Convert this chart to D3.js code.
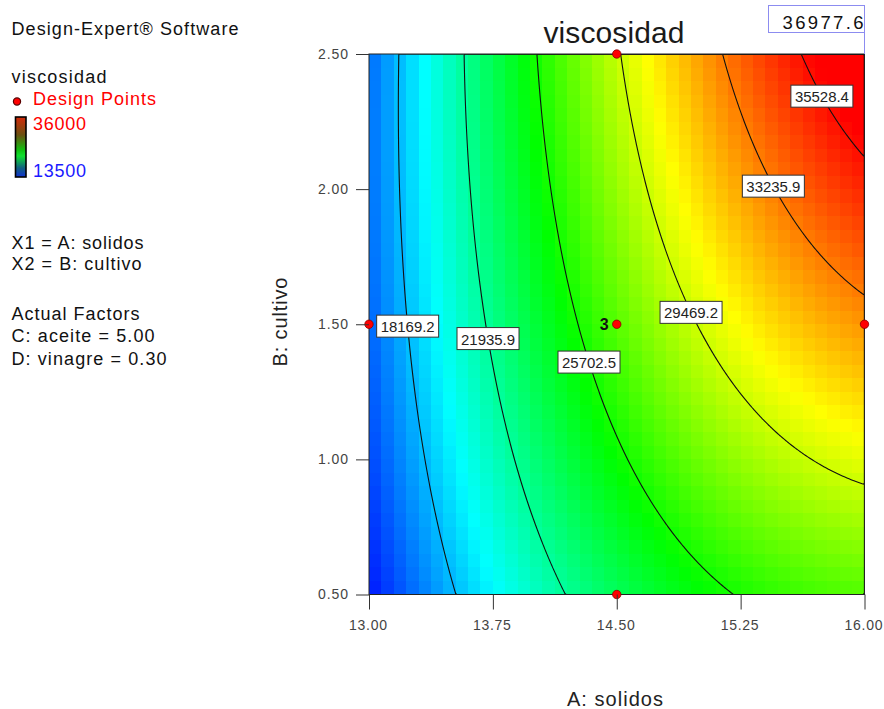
<!DOCTYPE html>
<html>
<head>
<meta charset="utf-8">
<script src="https://cdn.jsdelivr.net/npm/d3@7"></script>
<style>
    body { margin: 0; background: #fff; }
    text { font-family: "Liberation Sans", Arial, sans-serif; }
</style>
</head>
<body>
<div id="chart"></div>
<script>
(function () {
    // factor ranges (actual units)
    var solidosRange = [13.00, 16.00];
    var cultivoRange = [0.50, 2.50];

    // quadratic model in coded units, terms: Intercept, A, B, AB, A^2, B^2
    var modelTerms = ["Intercept", "A", "B", "AB", "A^2", "B^2"];
    var modelCoefs = [27064, 8292, 2981, 2039, -2650, -738];

    var contourLevels = [18169.2, 21935.9, 25702.5, 29469.2, 33235.9, 35528.4];
    var contourLabelCultivo = [1.493, 1.447, 1.360, 1.544, 2.011, 2.344];

    // response value where each colour of the ramp is reached (blue, cyan, green, yellow, red)
    var colorStops = [14000, 19700, 25300, 30500, 35800];
    var colorRamp = ["#0000ff", "#00ffff", "#00ff00", "#ffff00", "#ff0000"];

    var designSolidos = [14.50, 13.00, 14.50, 16.00, 14.50];
    var designCultivo = [2.50, 1.50, 1.50, 1.50, 0.50];
    var designReps = [1, 1, 3, 1, 1];

    var xTickValues = [13.00, 13.75, 14.50, 15.25, 16.00];
    var yTickValues = [0.50, 1.00, 1.50, 2.00, 2.50];

    var legendRange = [13500, 36000];
    var flagValue = 36977.6;
    var factorLines = ["X1 = A: solidos", "X2 = B: cultivo"];
    var actualLines = ["Actual Factors", "C: aceite = 5.00", "D: vinagre = 0.30"];

    var width = 884, height = 709;
    var nCells = 40, nFine = 240;

    function model(A, B) {
        var a = (A - d3.mean(solidosRange)) / ((solidosRange[1] - solidosRange[0]) / 2);
        var b = (B - d3.mean(cultivoRange)) / ((cultivoRange[1] - cultivoRange[0]) / 2);
        var c = modelCoefs;
        return c[0] + c[1] * a + c[2] * b + c[3] * a * b + c[4] * a * a + c[5] * b * b;
    }

    var svg = d3.select("#chart")
        .append("svg")
        .attr("width", width)
        .attr("height", height)
        .attr("xmlns", "http://www.w3.org/2000/svg");

    svg.append("rect").attr("width", width).attr("height", height).attr("fill", "#fff");

    var x = d3.scaleLinear().domain(solidosRange).range([369, 864.5]);
    var y = d3.scaleLinear().domain(cultivoRange).range([594.5, 54]);

    var color = d3.scaleLinear()
        .domain(colorStops)
        .range(colorRamp)
        .clamp(true);

    // fine grid for the contour lines (row 0 = top)
    var dAf = (solidosRange[1] - solidosRange[0]) / nFine;
    var dBf = (cultivoRange[1] - cultivoRange[0]) / nFine;
    var fine = new Array(nFine * nFine);
    for (var j = 0; j < nFine; j++) {
        for (var i = 0; i < nFine; i++) {
            fine[i + j * nFine] = model(solidosRange[0] + (i + 0.5) * dAf, cultivoRange[1] - (j + 0.5) * dBf);
        }
    }

    var defs = svg.append("defs");
    defs.append("clipPath").attr("id", "plotclip")
        .append("rect")
        .attr("x", x.range()[0]).attr("y", y.range()[1])
        .attr("width", x.range()[1] - x.range()[0])
        .attr("height", y.range()[0] - y.range()[1]);

    // coloured cells
    var cells = [];
    var dA = (solidosRange[1] - solidosRange[0]) / nCells;
    var dB = (cultivoRange[1] - cultivoRange[0]) / nCells;
    for (var ci = 0; ci < nCells; ci++) {
        for (var cj = 0; cj < nCells; cj++) {
            var a0 = solidosRange[0] + ci * dA, b0 = cultivoRange[0] + cj * dB;
            cells.push({a0: a0, a1: a0 + dA, b0: b0, b1: b0 + dB,
                v: model(a0 + dA / 2, b0 + dB / 2)});
        }
    }

    var plot = svg.append("g").attr("clip-path", "url(#plotclip)");

    plot.selectAll("rect.cell")
        .data(cells)
        .enter().append("rect")
        .attr("class", "cell")
        .attr("x", function (d) { return x(d.a0); })
        .attr("y", function (d) { return y(d.b1); })
        .attr("width", function (d) { return x(d.a1) - x(d.a0); })
        .attr("height", function (d) { return y(d.b0) - y(d.b1); })
        .attr("fill", function (d) { return color(d.v); })
        .attr("shape-rendering", "crispEdges");

    // contour lines
    var contours = d3.contours().size([nFine, nFine]).thresholds(contourLevels)(fine);
    var proj = d3.geoTransform({
        point: function (px, py) {
            this.stream.point(x(solidosRange[0] + px * dAf), y(cultivoRange[1] - py * dBf));
        }
    });
    var path = d3.geoPath(proj);

    plot.selectAll("path.contour")
        .data(contours)
        .enter().append("path")
        .attr("class", "contour")
        .attr("d", path)
        .attr("fill", "none")
        .attr("stroke", "#111")
        .attr("stroke-width", 1.1);

    // plot frame
    svg.append("rect")
        .attr("x", x.range()[0]).attr("y", y.range()[1])
        .attr("width", x.range()[1] - x.range()[0])
        .attr("height", y.range()[0] - y.range()[1])
        .attr("fill", "none")
        .attr("stroke", "#222")
        .attr("stroke-width", 1);

    // contour labels: find A on the line at the chosen B
    function solveA(level, B) {
        var lo = solidosRange[0], hi = solidosRange[1];
        for (var k = 0; k < 50; k++) {
            var mid = (lo + hi) / 2;
            if (model(mid, B) < level) lo = mid; else hi = mid;
        }
        return (lo + hi) / 2;
    }

    var labels = svg.selectAll("g.clabel")
        .data(contourLevels)
        .enter().append("g")
        .attr("class", "clabel")
        .attr("transform", function (d, i) {
            var B = contourLabelCultivo[i];
            return "translate(" + x(solveA(d, B)) + "," + y(B) + ")";
        });
    labels.append("rect")
        .attr("x", -31).attr("y", -11)
        .attr("width", 62).attr("height", 22)
        .attr("fill", "#fff")
        .attr("stroke", "#333")
        .attr("stroke-width", 1);
    labels.append("text")
        .attr("text-anchor", "middle")
        .attr("y", 6)
        .attr("font-size", 15.5)
        .attr("textLength", 54)
        .attr("lengthAdjust", "spacingAndGlyphs")
        .attr("fill", "#222")
        .text(function (d) { return d3.format(".1f")(d); });

    // design points
    var pts = designSolidos.map(function (d, i) {
        return {a: d, b: designCultivo[i], reps: designReps[i]};
    });
    svg.selectAll("circle.dp")
        .data(pts)
        .enter().append("circle")
        .attr("class", "dp")
        .attr("cx", function (d) { return x(d.a); })
        .attr("cy", function (d) { return y(d.b); })
        .attr("r", 4.2)
        .attr("fill", "#ff0000")
        .attr("stroke", "#8a0000")
        .attr("stroke-width", 0.8);
    svg.selectAll("text.reps")
        .data(pts.filter(function (d) { return d.reps > 1; }))
        .enter().append("text")
        .attr("class", "reps")
        .attr("x", function (d) { return x(d.a) - 8; })
        .attr("y", function (d) { return y(d.b) + 5.5; })
        .attr("text-anchor", "end")
        .attr("font-family", "Liberation Serif, serif")
        .attr("font-weight", "bold")
        .attr("font-size", 16)
        .attr("fill", "#111")
        .text(function (d) { return d.reps; });

    // axes
    var xAxis = svg.append("g")
        .attr("transform", "translate(0," + y.range()[0] + ")")
        .call(d3.axisBottom(x).tickValues(xTickValues).tickSize(15).tickSizeOuter(0)
            .tickPadding(11).tickFormat(d3.format(".2f")));
    var yAxis = svg.append("g")
        .attr("transform", "translate(" + x.range()[0] + ",0)")
        .call(d3.axisLeft(y).tickValues(yTickValues).tickSize(13).tickSizeOuter(0)
            .tickPadding(8).tickFormat(d3.format(".2f")));
    [xAxis, yAxis].forEach(function (g) {
        g.attr("font-family", null).attr("font-size", null);
        g.select(".domain").remove();
        g.selectAll(".tick line").attr("stroke", "#333");
        g.selectAll(".tick text")
            .attr("fill", "#444")
            .attr("font-size", 14);
    });
    xAxis.selectAll(".tick text").attr("textLength", 38).attr("dx", -1.5);
    yAxis.selectAll(".tick text").attr("textLength", 30);

    svg.append("text")
        .attr("x", 615).attr("y", 706)
        .attr("text-anchor", "middle")
        .attr("font-size", 20)
        .attr("textLength", 96)
        .attr("fill", "#222")
        .text("A: solidos");
    svg.append("text")
        .attr("transform", "translate(287,322) rotate(-90)")
        .attr("text-anchor", "middle")
        .attr("font-size", 20)
        .attr("textLength", 89)
        .attr("fill", "#222")
        .text("B: cultivo");

    // title
    svg.append("text")
        .attr("x", 614).attr("y", 42.5)
        .attr("text-anchor", "middle")
        .attr("font-size", 30)
        .attr("textLength", 141)
        .attr("fill", "#1a1a1a")
        .text("viscosidad");

    // max flag box
    svg.append("rect")
        .attr("x", 768.5).attr("y", 5.5)
        .attr("width", 96).attr("height", 27)
        .attr("fill", "#fff")
        .attr("stroke", "#8c8cf0")
        .attr("stroke-width", 1);
    svg.append("line")
        .attr("x1", 864.5).attr("x2", 864.5)
        .attr("y1", 5.5).attr("y2", y.range()[1])
        .attr("stroke", "#8c8cf0");
    svg.append("text")
        .attr("x", 863.5).attr("y", 28.5)
        .attr("text-anchor", "end")
        .attr("font-size", 18.5)
        .attr("textLength", 81)
        .attr("fill", "#111")
        .text(d3.format(".1f")(flagValue));

    // left legend
    var leg = svg.append("g");
    function legText(str, tx, ty, len, fill) {
        leg.append("text")
            .attr("x", tx).attr("y", ty)
            .attr("font-size", 18)
            .attr("textLength", len)
            .attr("lengthAdjust", "spacing")
            .attr("fill", fill || "#111")
            .text(str);
    }
    legText("Design-Expert\u00ae Software", 11.5, 35, 227);
    legText("viscosidad", 11.5, 82.5, 95);
    leg.append("circle").attr("cx", 17).attr("cy", 101.5).attr("r", 3.6)
        .attr("fill", "#ff0000").attr("stroke", "#5a0000").attr("stroke-width", 1.2);
    legText("Design Points", 33, 105, 123, "#ff0000");
    legText(d3.format("d")(legendRange[1]), 33, 129.5, 53, "#ff0000");
    legText(d3.format("d")(legendRange[0]), 33, 177, 53, "#1a1aff");

    var grad = defs.append("linearGradient").attr("id", "legGrad")
        .attr("x1", 0).attr("y1", 0).attr("x2", 0).attr("y2", 1);
    [[0, "#d42a0a"], [0.3, "#6a5010"], [0.55, "#10c010"], [0.65, "#10e030"],
     [0.85, "#106080"], [1, "#1030d0"]].forEach(function (s) {
        grad.append("stop").attr("offset", s[0]).attr("stop-color", s[1]);
    });
    leg.append("rect")
        .attr("x", 15.5).attr("y", 117)
        .attr("width", 10.5).attr("height", 60)
        .attr("fill", "url(#legGrad)")
        .attr("stroke", "#000")
        .attr("stroke-width", 1.6);

    legText(factorLines[0], 11.5, 248.5, 132);
    legText(factorLines[1], 11.5, 270, 130);
    legText(actualLines[0], 11.5, 320, 128);
    legText(actualLines[1], 11.5, 342, 143);
    legText(actualLines[2], 11.5, 365, 155);
})();
</script>
</body>
</html>
